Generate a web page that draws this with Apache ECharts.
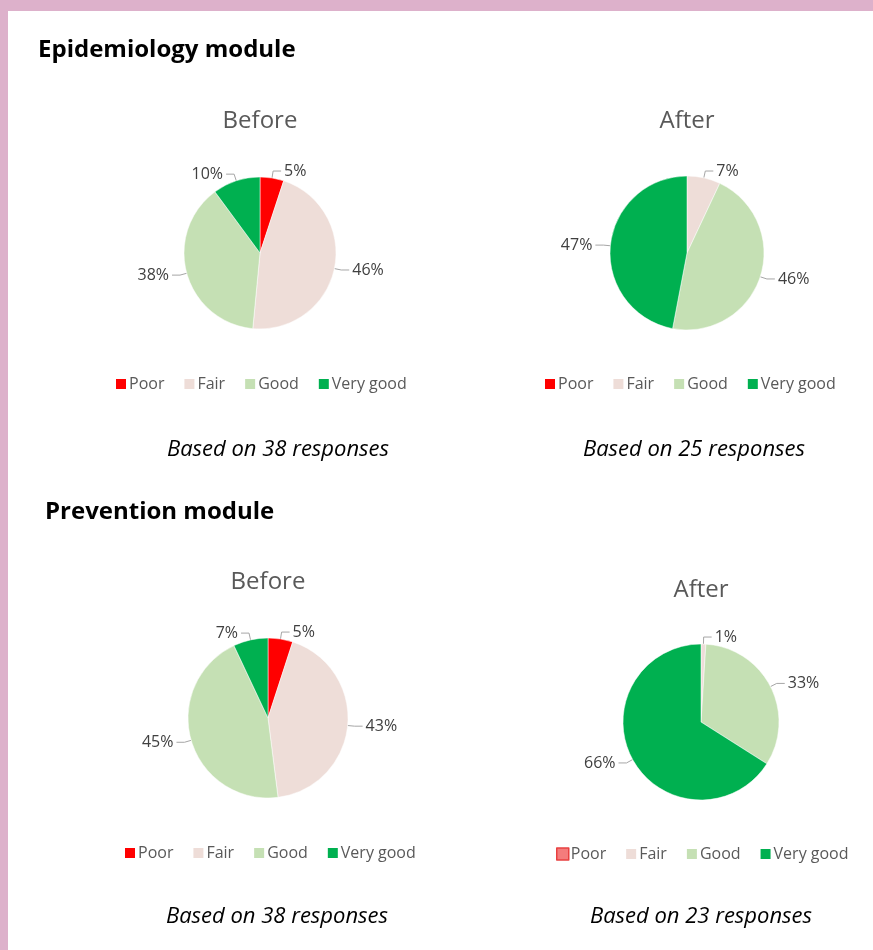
<!DOCTYPE html>
<html>
<head>
<meta charset="utf-8">
<script src="https://cdn.jsdelivr.net/npm/echarts@6/dist/echarts.min.js"></script>
<style>
  html, body { margin: 0; padding: 0; background: #fff; }
  #chart { width: 873px; height: 950px; }
</style>
</head>
<body>
<div id="chart"></div>
<script>
// Ratings categories and colours
const categories = ['Poor', 'Fair', 'Good', 'Very good'];
const colors = ['#FF0000', '#EEDDD8', '#C5E0B4', '#00B050'];

// Percentage of responses per rating
const epiBefore = [5, 46, 38, 10];
const epiAfter = [0, 7, 46, 47];
const prevBefore = [5, 43, 45, 7];
const prevAfter = [0, 1, 33, 66];

// Response counts
const epiBeforeN = 38, epiAfterN = 25, prevBeforeN = 38, prevAfterN = 23;

const FONT = '"Open Sans", Lato, sans-serif';
const GREY = '#595959';

function pieData(values) {
  return values.map((v, i) => {
    const d = { name: categories[i], value: v, itemStyle: { color: colors[i] } };
    if (v === 0) { d.label = { show: false }; d.labelLine = { show: false }; }
    return d;
  });
}

function pieSeries(values, center, radius) {
  return {
    type: 'pie',
    center: center,
    radius: radius,
    startAngle: 90,
    clockwise: true,
    silent: true,
    avoidLabelOverlap: false,
    itemStyle: { borderColor: '#fff', borderWidth: 0.5 },
    label: {
      show: true,
      position: 'outside',
      formatter: '{c}%',
      fontFamily: FONT,
      fontSize: 16,
      color: '#404040',
      distanceToLabelLine: 3
    },
    labelLine: {
      show: true,
      length: 7,
      length2: 8,
      lineStyle: { color: '#A6A6A6', width: 1 }
    },
    data: pieData(values)
  };
}

// legend row below a pie, starting at x = left
function legendAt(left, top, poorOutlined) {
  return {
    left: left,
    top: top,
    orient: 'horizontal',
    icon: 'rect',
    itemWidth: 12,
    itemHeight: 12,
    itemGap: 18,
    selectedMode: false,
    textStyle: { fontFamily: FONT, fontSize: 16, color: GREY, padding: [0, 0, 0, -3] },
    data: categories.map((c, i) => {
      const item = { name: c, itemStyle: { color: colors[i] } };
      if (poorOutlined && i === 0) {
        item.itemStyle = { color: '#F47C7C', borderColor: '#E84040', borderWidth: 1.5 };
      }
      return item;
    })
  };
}

function text(x, y, str, style) {
  return {
    type: 'text',
    x: x, y: y,
    style: Object.assign({
      text: str,
      fontFamily: FONT,
      align: 'center',
      verticalAlign: 'middle'
    }, style)
  };
}

const chart = echarts.init(document.getElementById('chart'), null, { renderer: 'canvas' });

chart.setOption({
  backgroundColor: '#fff',
  animation: false,
  graphic: [
    { type: 'rect', shape: { x: 0, y: 0, width: 873, height: 11 }, style: { fill: '#DDB1CB' } },
    { type: 'rect', shape: { x: 0, y: 0, width: 8, height: 950 }, style: { fill: '#DDB1CB' } },
    text(38, 50, 'Epidemiology module', { align: 'left', fontSize: 24, fontWeight: 'bold', fill: '#000' }),
    text(45, 512, 'Prevention module', { align: 'left', fontSize: 24, fontWeight: 'bold', fill: '#000' }),
    text(260, 121, 'Before', { fontSize: 24, fill: GREY }),
    text(687, 121, 'After', { fontSize: 24, fill: GREY }),
    text(268, 582, 'Before', { fontSize: 24, fill: GREY }),
    text(701, 590, 'After', { fontSize: 24, fill: GREY }),
    text(278, 450, 'Based on ' + epiBeforeN + ' responses', { fontSize: 22, fontStyle: 'italic', fill: '#000' }),
    text(694, 450, 'Based on ' + epiAfterN + ' responses', { fontSize: 22, fontStyle: 'italic', fill: '#000' }),
    text(277, 917, 'Based on ' + prevBeforeN + ' responses', { fontSize: 22, fontStyle: 'italic', fill: '#000' }),
    text(701, 917, 'Based on ' + prevAfterN + ' responses', { fontSize: 22, fontStyle: 'italic', fill: '#000' })
  ],
  legend: [
    legendAt(109, 371, false),
    legendAt(538, 371, false),
    legendAt(118, 840, false),
    legendAt(551, 841, true)
  ],
  series: [
    pieSeries(epiBefore, [260, 253], 76),
    pieSeries(epiAfter, [687, 253], 77),
    pieSeries(prevBefore, [268, 718], 80),
    pieSeries(prevAfter, [701, 722], 78)
  ]
});
</script>
</body>
</html>
